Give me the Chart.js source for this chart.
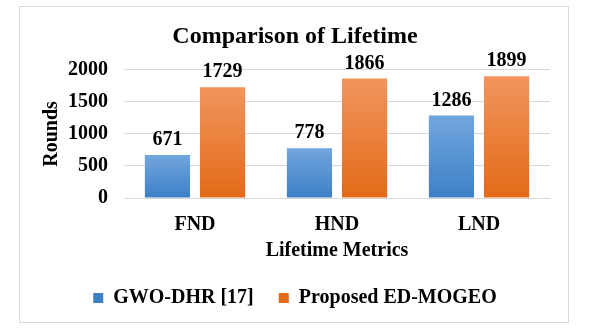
<!DOCTYPE html>
<html>
<head>
<meta charset="utf-8">
<script src="https://cdn.jsdelivr.net/npm/chart.js@4/dist/chart.umd.min.js"></script>
<style>
  html, body { margin: 0; padding: 0; background: #fff; }
  #wrap { width: 615px; height: 328px; }
</style>
</head>
<body>
<div id="wrap"><canvas id="lifeChart" width="615" height="328"></canvas></div>
<script>
// data
const metrics = ['FND', 'HND', 'LND']
const gwoDhr = [671, 778, 1286]
const edMogeo = [1729, 1866, 1899]
const yTicks = [0, 500, 1000, 1500, 2000]

const serif = "'Liberation Serif', 'Times New Roman', serif"

// per bar vertical gradient, light on top like the office chart
function barGradient(top, bottom) {
    return function(ctx) {
        let chart = ctx.chart
        let y = chart.scales.y
        if (!chart.chartArea || !y || ctx.raw == null) return bottom
        let yTop = y.getPixelForValue(ctx.raw)
        let yBase = y.getPixelForValue(0)
        if (!isFinite(yTop) || !isFinite(yBase) || yTop === yBase) return bottom
        let g = chart.ctx.createLinearGradient(0, yTop, 0, yBase)
        g.addColorStop(0, top)
        g.addColorStop(1, bottom)
        return g
    }
}

// value labels above every bar
const valueLabels = {
    id: 'valueLabels',
    afterDatasetsDraw(chart) {
        let c = chart.ctx
        c.save()
        c.font = 'bold 20px ' + serif
        c.fillStyle = '#000'
        c.textAlign = 'center'
        c.textBaseline = 'bottom'
        chart.data.datasets.forEach((ds, i) => {
            chart.getDatasetMeta(i).data.forEach((bar, j) => {
                c.fillText(ds.data[j], bar.x, bar.y - 5)
            })
        })
        c.restore()
    }
}

// light grey frame round the whole chart
const frame = {
    id: 'frame',
    beforeDraw(chart) {
        let c = chart.ctx
        c.save()
        c.strokeStyle = '#d9d9d9'
        c.lineWidth = 1
        c.strokeRect(19.5, 6.5, 549, 316)
        c.restore()
    }
}

new Chart(document.getElementById('lifeChart'), {
    type: 'bar',
    data: {
        labels: metrics,
        datasets: [{
            label: 'GWO-DHR [17]',
            data: gwoDhr,
            backgroundColor: barGradient('#72a6de', '#3d80c6')
        }, {
            label: 'Proposed ED-MOGEO',
            data: edMogeo,
            backgroundColor: barGradient('#f1955d', '#e36a18')
        }]
    },
    options: {
        responsive: false,
        animation: false,
        categoryPercentage: 0.776,
        barPercentage: 0.82,
        layout: { padding: { left: 40, right: 65, top: 22, bottom: 10 } },
        plugins: {
            title: {
                display: true,
                text: 'Comparison of Lifetime',
                color: '#000',
                font: { family: serif, size: 24, weight: 'bold' },
                padding: { top: 0, bottom: 19 }
            },
            legend: {
                position: 'bottom',
                labels: {
                    color: '#000',
                    font: { family: serif, size: 20, weight: 'bold' },
                    boxWidth: 10,
                    boxHeight: 10,
                    padding: 25
                }
            },
            tooltip: { enabled: false }
        },
        scales: {
            x: {
                grid: { display: false, drawTicks: false },
                border: { display: false },
                ticks: { color: '#000', font: { family: serif, size: 20, weight: 'bold' }, padding: 15 },
                title: {
                    display: true,
                    text: 'Lifetime Metrics',
                    color: '#000',
                    font: { family: serif, size: 20, weight: 'bold' },
                    padding: { top: -13, bottom: 0 }
                }
            },
            y: {
                min: 0,
                max: 2000,
                afterBuildTicks(axis) {
                    axis.ticks = yTicks.map(v => ({ value: v }))
                },
                grid: { color: '#d9d9d9', drawTicks: false },
                border: { display: false },
                ticks: {
                    color: '#000',
                    font: { family: serif, size: 20, weight: 'bold' },
                    padding: 16,
                    callback: v => String(v)
                },
                title: {
                    display: true,
                    text: 'Rounds',
                    color: '#000',
                    font: { family: serif, size: 20, weight: 'bold' },
                    padding: { top: 0, bottom: -12 }
                }
            }
        }
    },
    plugins: [frame, valueLabels]
})
</script>
</body>
</html>
